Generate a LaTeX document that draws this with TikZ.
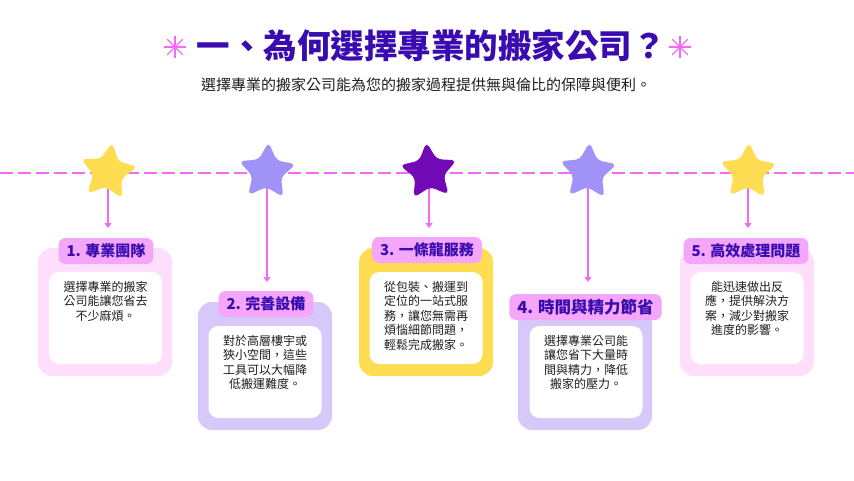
\documentclass[tikz,border=0pt]{standalone}
\usepackage{fontspec}
\setmainfont{Noto Sans CJK TC}
\usepackage{xcolor}
\usetikzlibrary{arrows.meta,positioning,shapes.geometric,backgrounds}
\definecolor{magline}{RGB}{242,107,247}
\definecolor{titleblue}{RGB}{58,12,176}
\definecolor{ink}{RGB}{30,30,30}
\definecolor{sunyellow}{RGB}{255,221,82}
\definecolor{lavender}{RGB}{160,146,247}
\definecolor{grape}{RGB}{114,9,183}
\definecolor{softpink}{RGB}{255,222,251}
\definecolor{softlilac}{RGB}{215,200,250}
\definecolor{tabpink}{RGB}{243,166,250}

\begin{document}
\begin{tikzpicture}[x=1pt,y=-1pt,
  outer/.style={rounded corners=14pt, minimum width=134pt, minimum height=128pt, inner sep=0pt},
  inner/.style={fill=white, rounded corners=10pt, minimum width=113pt, minimum height=92pt, inner sep=0pt},
  tab/.style={fill=tabpink, rounded corners=7pt, minimum height=26pt, inner xsep=8pt,
              font=\bfseries\fontsize{15}{15}\selectfont, text=titleblue},
  body/.style={align=center, font=\fontsize{12}{14.5}\selectfont, text=ink, inner sep=0pt},
  starmark/.style={star, star points=5, star point ratio=2, minimum size=60pt,
                   rounded corners=5pt, inner sep=0pt},
  arr/.style={-{Triangle[length=5pt,width=7pt]}, line width=1.4pt, color=magline}]
\useasboundingbox (0,0) rectangle (854,480);
% heading
\node[font=\bfseries\fontsize{33.5}{33.5}\selectfont, text=titleblue] (title) at (431,46) {一、為何選擇專業的搬家公司？};
\coordinate (al) at (175,47);
\coordinate (ar) at (680,47);
\foreach \p in {al,ar}
  \foreach \a in {0,45,90,135}
    \draw[magline, line width=1.3pt] (\p) ++(\a:11) -- ++(\a+180:22);
\node[font=\fontsize{15}{15}\selectfont, text=ink] (sub) at (426,85) {選擇專業的搬家公司能為您的搬家過程提供無與倫比的保障與便利。};
% timeline stars
\node[starmark, fill=sunyellow, rotate=-8] (s1) at (108,172) {};
\node[starmark, fill=lavender, rotate=-3] (s2) at (267,172) {};
\node[starmark, fill=grape, rotate=5] (s3) at (429,172) {};
\node[starmark, fill=lavender, rotate=-3] (s4) at (588,172) {};
\node[starmark, fill=sunyellow, rotate=-2] (s5) at (748,172) {};
\coordinate (lineL) at (0,173);
\coordinate (lineR) at (854,173);
\coordinate (a1) at (108,228);
\coordinate (a2) at (267,282);
\coordinate (a3) at (429,228);
\coordinate (a4) at (588,282);
\coordinate (a5) at (748,228);
\begin{scope}[on background layer]
\fill[white] (0,0) rectangle (854,480);
\draw[magline, line width=2pt, dash pattern=on 13pt off 5pt] (lineL) -- (lineR);
\draw[arr] (s1.center) -- (a1);
\draw[arr] (s2.center) -- (a2);
\draw[arr] (s3.center) -- (a3);
\draw[arr] (s4.center) -- (a4);
\draw[arr] (s5.center) -- (a5);
\end{scope}
% cards
\node[outer, fill=softpink] (b1) at (105,312) {};
\node[inner] (w1) at (105.5,318) {};
\node[tab] (t1) at (106,251) {1. 專業團隊};
\node[body, below=9pt of w1.north] (x1) {選擇專業的搬家\\公司能讓您省去\\不少麻煩。};
\node[outer, fill=softlilac] (b2) at (265,366) {};
\node[inner] (w2) at (265,372) {};
\node[tab] (t2) at (266,304) {2. 完善設備};
\node[body, below=9pt of w2.north] (x2) {對於高層樓宇或\\狹小空間，這些\\工具可以大幅降\\低搬運難度。};
\node[outer, fill=sunyellow] (b3) at (426,312) {};
\node[inner] (w3) at (426,318) {};
\node[tab] (t3) at (427,250) {3. 一條龍服務};
\node[body, below=9pt of w3.north] (x3) {從包裝、搬運到\\定位的一站式服\\務，讓您無需再\\煩惱細節問題，\\輕鬆完成搬家。};
\node[outer, fill=softlilac] (b4) at (585,366) {};
\node[inner] (w4) at (586,372) {};
\node[tab, font=\bfseries\fontsize{16.5}{16.5}\selectfont] (t4) at (585.5,307) {4. 時間與精力節省};
\node[body, below=9pt of w4.north] (x4) {選擇專業公司能\\讓您省下大量時\\間與精力，降低\\搬家的壓力。};
\node[outer, fill=softpink] (b5) at (747,312) {};
\node[inner] (w5) at (747,318) {};
\node[tab] (t5) at (746,251) {5. 高效處理問題};
\node[body, below=9pt of w5.north] (x5) {能迅速做出反\\應，提供解決方\\案，減少對搬家\\進度的影響。};
\end{tikzpicture}
\end{document}
